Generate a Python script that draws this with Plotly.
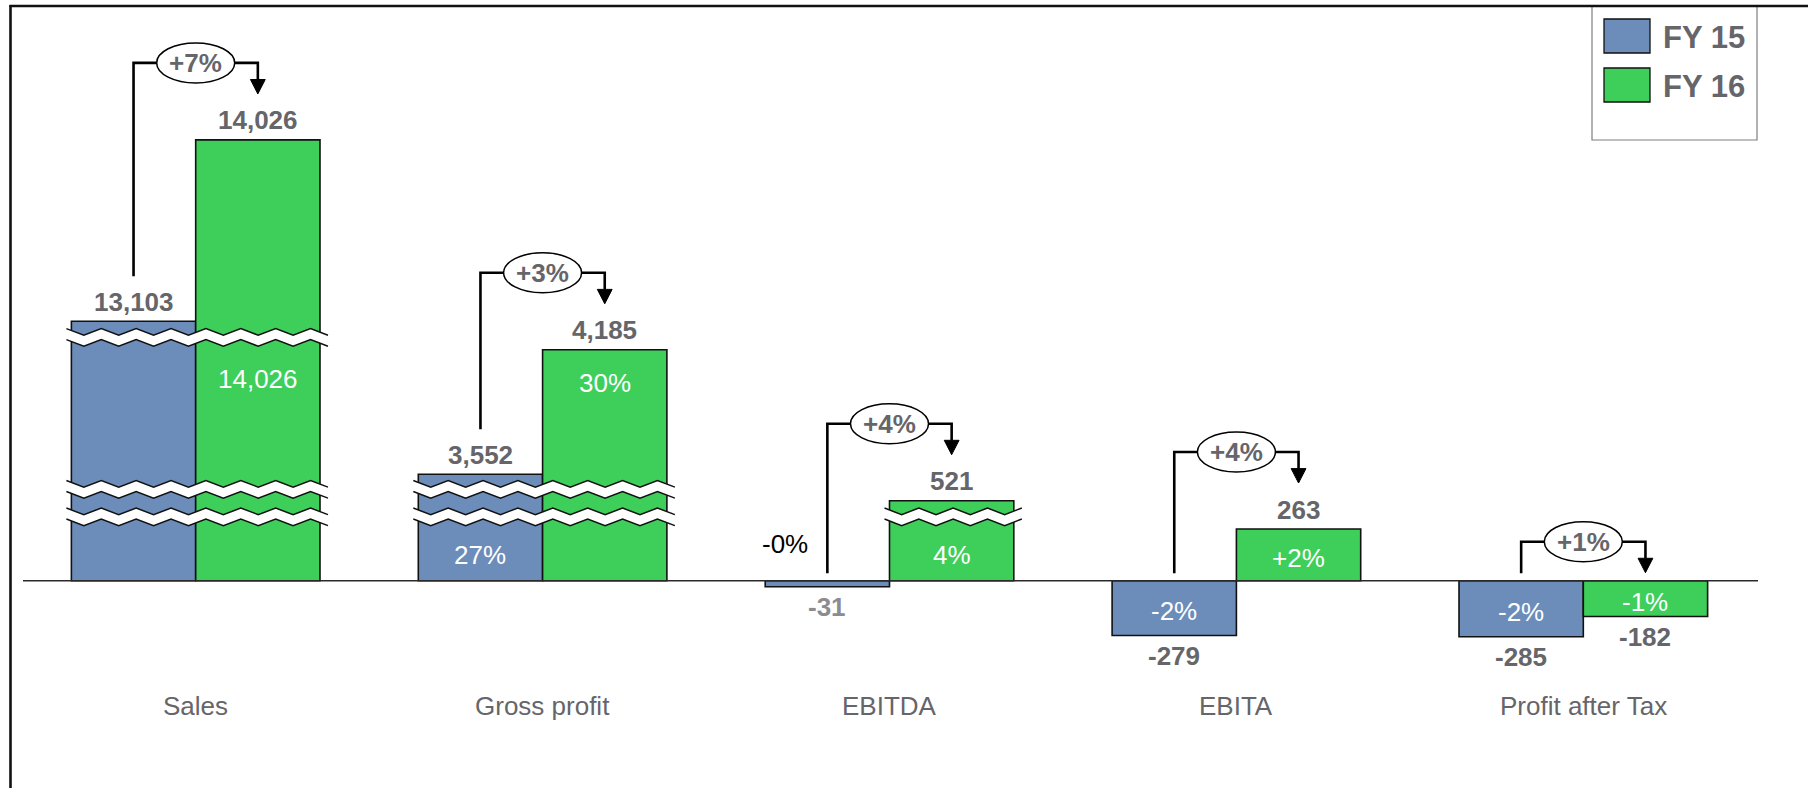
import math
import plotly.graph_objects as go

# ---------------- data ----------------
categories = ["Sales", "Gross profit", "EBITDA", "EBITA", "Profit after Tax"]
series_names = ["FY 15", "FY 16"]
fy15 = [13103, 3552, -31, -279, -285]
fy16 = [14026, 4185, 521, 263, -182]
fy15_inner = ["", "27%", "", "-2%", "-2%"]
fy16_inner = ["14,026", "30%", "4%", "+2%", "-1%"]
fy15_side = ["", "", "-0%", "", ""]
growth = ["+7%", "+3%", "+4%", "+4%", "+1%"]
# value hidden by the axis breaks in each category, and the levels where breaks are drawn
axis_cut = [11783, 3010, 114, 0, 0]
break_levels = [[1238, 465, 325], [465, 325], [325], [], []]

# ---------------- style / geometry ----------------
W, H = 1808, 788
X_RANGE = [-0.5641, 4.6477]
Y_RANGE = [-1055, 2955]
XPX = W / (X_RANGE[1] - X_RANGE[0])
YPX = H / (Y_RANGE[1] - Y_RANGE[0])
BARGAP = 0.2834
BW = (1 - BARGAP) / 2

BLUE = "#6C8CBA"
GREEN = "#3ECE5A"
GRAY = "#65656A"
LIGHTGRAY = "#8C8C90"
FONT = "Liberation Sans, Arial, sans-serif"


def dx(p):
    return p / XPX


def dy(p):
    return p / YPX


def px(xp):
    return xp / W


def py(yp):
    return 1 - yp / H


def shown(v, cut):
    return v - cut if v > 0 else v


d15 = [shown(v, c) for v, c in zip(fy15, axis_cut)]
d16 = [shown(v, c) for v, c in zip(fy16, axis_cut)]
xs = list(range(len(categories)))

fig = go.Figure()
fig.add_trace(go.Bar(
    x=xs, y=d15, name=series_names[0], customdata=fy15,
    marker=dict(color=BLUE, line=dict(color="#111111", width=1.6)),
    hovertemplate="%{customdata:,}<extra>FY 15</extra>", showlegend=False))
fig.add_trace(go.Bar(
    x=xs, y=d16, name=series_names[1], customdata=fy16,
    marker=dict(color=GREEN, line=dict(color="#111111", width=1.6)),
    hovertemplate="%{customdata:,}<extra>FY 16</extra>", showlegend=False))

shapes = []
annotations = []

# frame
shapes.append(dict(type="line", xref="paper", yref="paper", x0=px(9.5), x1=1.0,
                   y0=py(6), y1=py(6), line=dict(color="#111111", width=2.6)))
shapes.append(dict(type="line", xref="paper", yref="paper", x0=px(10.5), x1=px(10.5),
                   y0=0, y1=py(5), line=dict(color="#111111", width=2.6)))
# baseline
shapes.append(dict(type="line", xref="paper", yref="y", x0=px(23), x1=px(1758),
                   y0=0, y1=0, line=dict(color="#2a2a2a", width=1.4)))


def zigzag(xl, xr, yc):
    step = dx(17.5)
    n = max(2, int(math.ceil((xr - xl) / step)))
    st = (xr - xl) / n
    pts = []
    for k in range(n + 1):
        amp = dy(3.3) if k % 2 == 0 else -dy(3.3)
        pts.append((xl + k * st, yc + amp))
    return pts


# axis breaks
for i, levels in enumerate(break_levels):
    for L in levels:
        edges = []
        if d15[i] > L:
            edges += [i - BW, i]
        if d16[i] > L:
            edges += [i, i + BW]
        if not edges:
            continue
        xl = min(edges) - dx(5)
        xr = max(edges) + dx(8)
        up = zigzag(xl, xr, L + dy(5.5))
        lo = zigzag(xl, xr, L - dy(5.5))
        poly = "M" + " L".join(f"{a},{b}" for a, b in up) + " L" + \
               " L".join(f"{a},{b}" for a, b in reversed(lo)) + " Z"
        shapes.append(dict(type="path", xref="x", yref="y", path=poly,
                           fillcolor="white", line=dict(width=0)))
        for line_pts in (up, lo):
            p = "M" + " L".join(f"{a},{b}" for a, b in line_pts)
            shapes.append(dict(type="path", xref="x", yref="y", path=p,
                               fillcolor="rgba(0,0,0,0)",
                               line=dict(color="#111111", width=1.5)))

# growth connectors
for i in xs:
    x15 = i - BW / 2
    x16 = i + BW / 2
    start = d15[i] + dy(45) if d15[i] > 0 else dy(7.5)
    tip = d16[i] + dy(46) if d16[i] > 0 else dy(8)
    level = max(start, tip) + dy(31)
    head = tip + dy(14.4)
    shapes.append(dict(type="path", xref="x", yref="y",
                       path=f"M{x15},{start} L{x15},{level} L{x16},{level} L{x16},{head}",
                       fillcolor="rgba(0,0,0,0)", line=dict(color="#000000", width=2.6)))
    shapes.append(dict(type="path", xref="x", yref="y",
                       path=f"M{x16 - dx(7.4)},{head} L{x16 + dx(7.4)},{head} L{x16},{tip} Z",
                       fillcolor="#000000", line=dict(color="#000000", width=1)))
    shapes.append(dict(type="circle", xref="x", yref="y",
                       x0=i - dx(39), x1=i + dx(39), y0=level - dy(20), y1=level + dy(20),
                       fillcolor="white", line=dict(color="#000000", width=1.5)))
    annotations.append(dict(x=i, y=level, xref="x", yref="y", text=f"<b>{growth[i]}</b>",
                            showarrow=False, yanchor="middle",
                            font=dict(family=FONT, size=26, color=GRAY)))


def value_label(x, disp, val, color):
    if disp >= 0:
        y = disp + dy(19.5)
    else:
        y = disp - dy(20.5)
    annotations.append(dict(x=x, y=y, xref="x", yref="y", text=f"<b>{val:,}</b>",
                            showarrow=False, yanchor="middle",
                            font=dict(family=FONT, size=26, color=color)))


def inner_label(x, disp, levels, text):
    if not text:
        return
    if disp > 800:
        y = min(disp - dy(30), 1040)
    elif disp > 0:
        lows = [L for L in levels if L < disp]
        top = min(lows) - dy(6) if lows else disp
        y = top / 2
    else:
        y = disp / 2
    annotations.append(dict(x=x, y=y, xref="x", yref="y", text=text, yshift=-3,
                            showarrow=False, yanchor="middle",
                            font=dict(family=FONT, size=26, color="white")))


for i in xs:
    x15 = i - BW / 2
    x16 = i + BW / 2
    value_label(x15, d15[i], fy15[i], LIGHTGRAY if abs(fy15[i]) < 100 else GRAY)
    value_label(x16, d16[i], fy16[i], GRAY)
    inner_label(x15, d15[i], break_levels[i], fy15_inner[i])
    inner_label(x16, d16[i], break_levels[i], fy16_inner[i])
    if fy15_side[i]:
        annotations.append(dict(x=x15 - dx(42), y=dy(37), xref="x", yref="y",
                                text=fy15_side[i], showarrow=False, yanchor="middle",
                                font=dict(family=FONT, size=26, color="#000000")))
    annotations.append(dict(x=i, y=-dy(125.8), xref="x", yref="y", text=categories[i],
                            showarrow=False, yanchor="middle",
                            font=dict(family=FONT, size=26, color=GRAY)))

# legend (drawn manually for large swatches)
shapes.append(dict(type="rect", xref="paper", yref="paper", x0=px(1592), x1=px(1757),
                   y0=py(140), y1=py(6), fillcolor="white",
                   line=dict(color="#7f7f7f", width=1.2), layer="below"))
for k, (col, name) in enumerate(zip([BLUE, GREEN], series_names)):
    top = 19 + k * 49
    shapes.append(dict(type="rect", xref="paper", yref="paper", x0=px(1604), x1=px(1650),
                       y0=py(top + 34), y1=py(top), fillcolor=col,
                       line=dict(color="#111111", width=1.3)))
    annotations.append(dict(x=px(1661), y=py(top + 18), xref="paper", yref="paper",
                            xanchor="left", yanchor="middle", text=f"<b>{name}</b>",
                            showarrow=False,
                            font=dict(family=FONT, size=31, color=GRAY)))

fig.update_layout(
    width=W, height=H, autosize=False,
    margin=dict(l=0, r=0, t=0, b=0, pad=0),
    paper_bgcolor="white", plot_bgcolor="white",
    barmode="group", bargap=BARGAP, bargroupgap=0,
    xaxis=dict(range=X_RANGE, visible=False, fixedrange=True),
    yaxis=dict(range=Y_RANGE, visible=False, fixedrange=True),
    shapes=shapes, annotations=annotations,
    font=dict(family=FONT),
)

fig.write_html("out.html", config={"displayModeBar": False},
               post_script="document.body.style.margin='0';document.body.style.overflow='hidden';")
